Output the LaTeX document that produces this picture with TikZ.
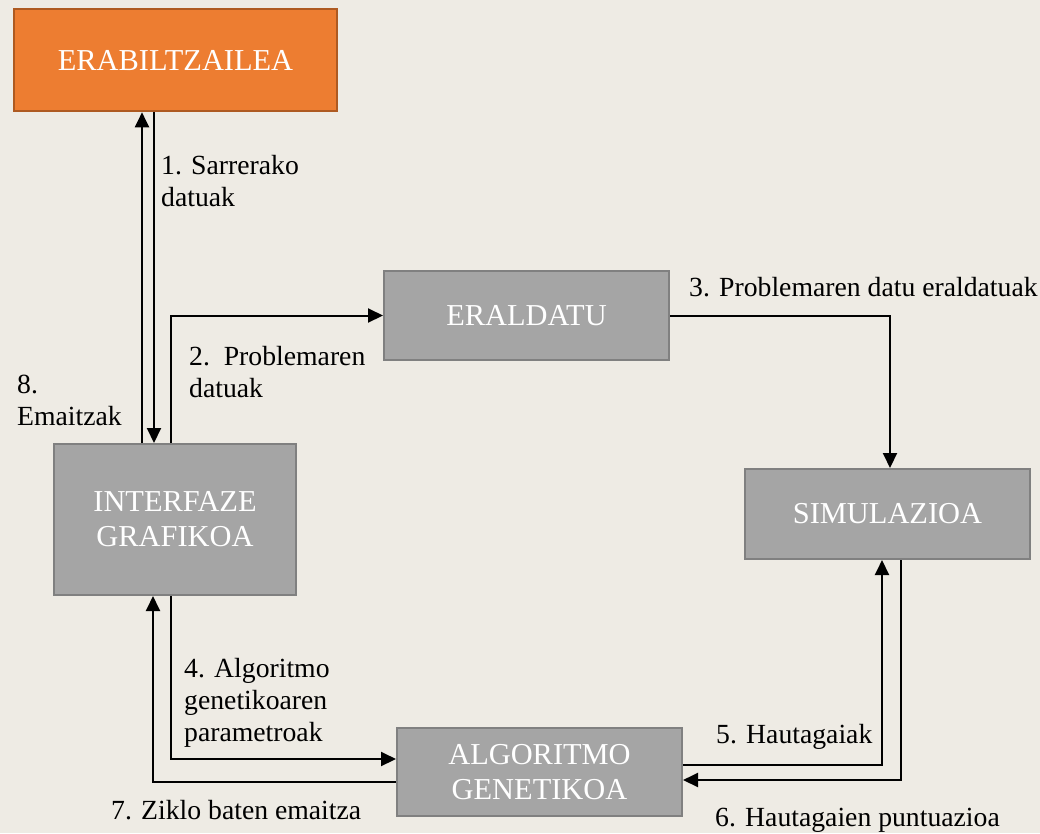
\documentclass[tikz,border=0pt]{standalone}
\usepackage{fontspec}
\setmainfont{Liberation Serif}
\usetikzlibrary{arrows.meta}
\definecolor{bgc}{HTML}{EEEBE4}
\definecolor{boxfill}{HTML}{A5A5A5}
\definecolor{boxline}{HTML}{808080}
\definecolor{orfill}{HTML}{ED7D31}
\definecolor{orline}{HTML}{AE5A21}
\tikzset{
  procbox/.style={rectangle, draw=boxline, fill=boxfill, line width=2pt, inner sep=0pt,
    text=white, align=center, font=\fontsize{30.4}{35}\selectfont},
  userbox/.style={procbox, draw=orline, fill=orfill},
  conn/.style={draw=black, line width=2pt},
  arr/.style={-{Triangle[length=15pt,width=14pt]}},
  lbl/.style={inner sep=0pt, anchor=base west, font=\fontsize{27.7}{32}\selectfont, text=black}
}
\begin{document}
\begin{tikzpicture}[x=1pt,y=-1pt]
\fill[bgc] (0,0) rectangle (1040,833);
\useasboundingbox (0,0) rectangle (1040,833);

% boxes
\node[userbox, minimum width=323pt, minimum height=102pt] (erab) at (175.5,60.3) {ERABILTZAILEA};
\node[procbox, minimum width=285pt, minimum height=89pt] (eral) at (526.5,315.5) {ERALDATU};
\node[procbox, minimum width=285pt, minimum height=90pt] (sim) at (887.5,514) {SIMULAZIOA};
\node[procbox, minimum width=242pt, minimum height=151pt] (ui) at (175,519.5) {INTERFAZE\\GRAFIKOA};
\node[procbox, minimum width=285pt, minimum height=88pt] (alg) at (539.5,772) {ALGORITMO\\GENETIKOA};

% helper coordinates
\coordinate (c142) at (142,0);
\coordinate (c154) at (154,0);
\coordinate (c171) at (171,0);
\coordinate (c153) at (153,0);
\coordinate (c890) at (890,0);
\coordinate (c882) at (882,0);
\coordinate (c901) at (901,0);
\coordinate (c759) at (0,759);
\coordinate (c765) at (0,765);
\coordinate (c780) at (0,780);
\coordinate (c782) at (0,782);

% connectors
\draw[conn,arr] (ui.north -| c142) -- (erab.south -| c142);
\draw[conn,arr] (erab.south -| c154) -- (ui.north -| c154);
\draw[conn,arr] (ui.north -| c171) |- (eral.west);
\draw[conn,arr] (eral.east) -| (sim.north -| c890);
\draw[conn,arr] (alg.east |- c765) -| (sim.south -| c882);
\draw[conn,arr] (sim.south -| c901) |- (alg.east |- c780);
\draw[conn,arr] (ui.south -| c171) |- (alg.west |- c759);
\draw[conn,arr] (alg.west |- c782) -| (ui.south -| c153);

% labels
\node[lbl] (l1) at (161,174) {\begin{tabular}[t]{@{}l@{}}1. Sarrerako\\datuak\end{tabular}};
\node[lbl] (l2) at (189,365) {\begin{tabular}[t]{@{}l@{}}2.\ \ Problemaren\\datuak\end{tabular}};
\node[lbl] (l3) at (689,296) {3. Problemaren datu eraldatuak};
\node[lbl] (l8) at (17,393) {\begin{tabular}[t]{@{}l@{}}8.\\Emaitzak\end{tabular}};
\node[lbl] (l4) at (184,677) {\begin{tabular}[t]{@{}l@{}}4. Algoritmo\\genetikoaren\\parametroak\end{tabular}};
\node[lbl] (l5) at (716,743) {5. Hautagaiak};
\node[lbl] (l6) at (715,826) {6. Hautagaien puntuazioa};
\node[lbl] (l7) at (111,819) {7. Ziklo baten emaitza};
\end{tikzpicture}
\end{document}
